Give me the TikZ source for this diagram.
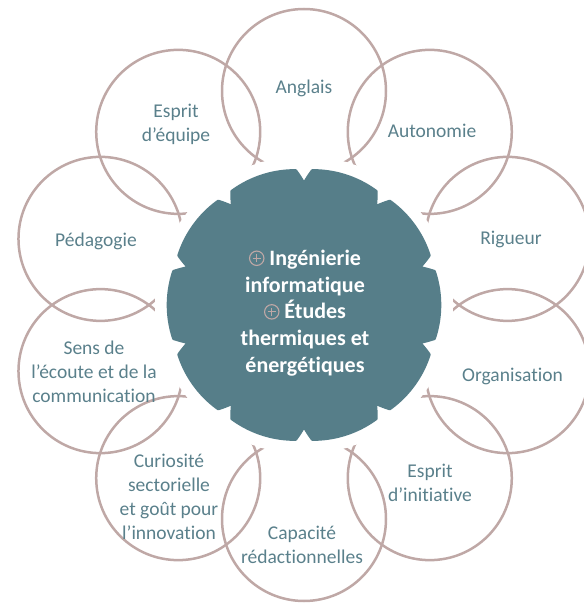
\documentclass[tikz,border=0pt]{standalone}
\usepackage{fontspec}
\usetikzlibrary{calc}
\setmainfont{Carlito}[Ligatures={NoCommon,NoRequired,NoContextual,NoRare,NoDiscretionary}]
\definecolor{discfill}{HTML}{567E89}
\definecolor{labc}{HTML}{5A808B}
\definecolor{ring}{HTML}{BFA8A6}
\newcommand\opmark{\tikz[baseline=-7pt]{\draw[ring,line width=1.1pt] (0,0) circle (7.2pt); \draw[ring,line width=1.1pt] (-4.2pt,0)--(4.2pt,0) (0,-4.2pt)--(0,4.2pt);}}
\begin{document}
\begin{tikzpicture}[x=1pt,y=1pt,
  declare function={uu(\a)=min(mod(\a-90,36),36-mod(\a-90,36));
                    rho(\a)=135.5+1.8*(1-((18-uu(\a))/18)^2)-max(0,11*(1-uu(\a)/3.2));},
  outer/.style={circle,draw=ring,line width=2.5pt,minimum size=164pt,inner sep=0pt},
  lab/.style={text=labc,font=\fontsize{19.5}{23.8}\selectfont,align=center,inner sep=0pt}]
\useasboundingbox (0,0) rectangle (584,603);
\clip (0,0) rectangle (584,603);
\coordinate (c) at (304,298);
\foreach \k/\ang in {1/90,2/54,3/18,4/-18,5/-54,6/-90,7/-126,8/-162,9/162,10/126}
  \node[outer] (o\k) at ($(c)+(\ang:214)$) {};
\fill[white] (c) circle (149);
\fill[discfill,shift={(304,298)}] plot[domain=90:450,samples=721] (\x:{rho(\x)}) -- cycle;
\node[text=white,font=\bfseries\fontsize{22}{26.8}\selectfont,align=center] (ctr) at (305,290)
  {\opmark\ Ingénierie\\informatique\\\opmark\ Études\\thermiques et\\énergétiques};
\node[lab] (l1) at (304,515) {Anglais};
\node[lab] (l2) at (432,472) {Autonomie};
\node[lab] (l3) at (511,363.5) {Rigueur};
\node[lab] (l4) at (512.5,226.5) {Organisation};
\node[lab] (l5) at (430,120) {Esprit\\d’initiative};
\node[lab] (l6) at (302,58) {Capacité\\rédactionnelles};
\node[lab] (l7) at (169,106) {Curiosité\\sectorielle\\et goût pour\\l’innovation};
\node[lab] (l8) at (94,231) {Sens de\\l’écoute et de la\\communication};
\node[lab] (l9) at (96,361.5) {Pédagogie};
\node[lab] (l10) at (176,478.5) {Esprit\\d’équipe};
\end{tikzpicture}
\end{document}
